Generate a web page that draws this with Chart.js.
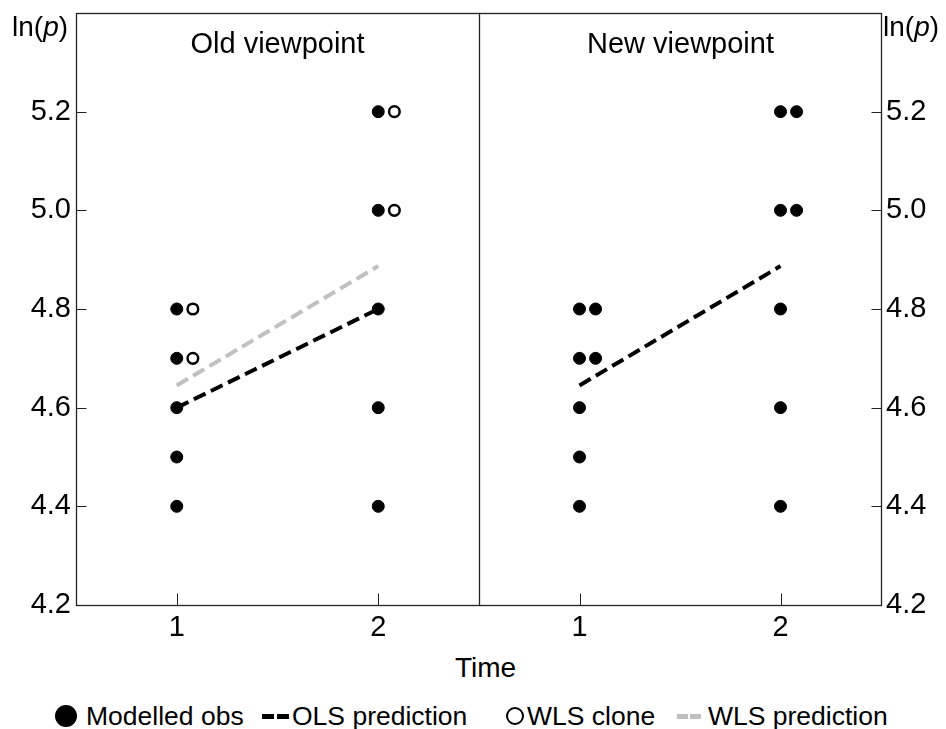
<!DOCTYPE html>
<html>
<head>
<meta charset="utf-8">
<script src="https://cdn.jsdelivr.net/npm/chart.js@4.4.1/dist/chart.umd.min.js"></script>
<style>
    html, body { margin: 0; padding: 0; background: #fff; }
    #wrap { position: relative; width: 946px; height: 729px; overflow: hidden;
        font-family: "Liberation Sans", Arial, sans-serif; color: #000; }
    canvas { position: absolute; top: 0; }
    #chartOld { left: 0; }
    #chartNew { left: 479px; }
    .txt { position: absolute; white-space: nowrap; font-size: 28px; line-height: 28px; }
    .ttl { width: 403px; text-align: center; top: 29px; font-size: 29px; }
    .leg { position: absolute; white-space: nowrap; font-size: 26.5px; line-height: 26px; top: 703px; }
    .mk { position: absolute; box-sizing: border-box; }
</style>
</head>
<body>
<div id="wrap">
    <canvas id="chartOld" width="480" height="650"></canvas>
    <canvas id="chartNew" width="467" height="650"></canvas>

    <div class="txt" style="left:12px; top:13px;">ln(<i>p</i>)</div>
    <div class="txt" style="left:883px; top:13px;">ln(<i>p</i>)</div>
    <div class="txt ttl" style="left:76px;">Old viewpoint</div>
    <div class="txt ttl" style="left:479px;">New viewpoint</div>
    <div class="txt" style="left:455px; top:654px;">Time</div>

    <div class="mk" style="left:55px; top:705px; width:22px; height:22px; border-radius:50%; background:#000;"></div>
    <div class="leg" style="left:86px;">Modelled obs</div>
    <div class="mk" style="left:262px; top:714px; width:12px; height:5px; background:#000;"></div>
    <div class="mk" style="left:277px; top:714px; width:12px; height:5px; background:#000;"></div>
    <div class="leg" style="left:292px;">OLS prediction</div>
    <div class="mk" style="left:506px; top:707px; width:18px; height:18px; border-radius:50%; border:2.5px solid #000;"></div>
    <div class="leg" style="left:527px;">WLS clone</div>
    <div class="mk" style="left:677px; top:714px; width:11px; height:5px; background:#c0c0c0;"></div>
    <div class="mk" style="left:690px; top:714px; width:11px; height:5px; background:#c0c0c0;"></div>
    <div class="leg" style="left:708px;">WLS prediction</div>
</div>
<script>
// tick values
const timeTicks = [1, 2];
const lnpTicks = [4.2, 4.4, 4.6, 4.8, 5.0, 5.2];

// old viewpoint
const oldObsTime = [1, 1, 1, 1, 1, 2, 2, 2, 2, 2];
const oldObsLnp = [4.4, 4.5, 4.6, 4.7, 4.8, 4.4, 4.6, 4.8, 5.0, 5.2];
const cloneTime = [1.08, 1.08, 2.08, 2.08];
const cloneLnp = [4.7, 4.8, 5.0, 5.2];
const predTime = [1, 2];
const olsOld = [4.6, 4.8];
const wlsOld = [4.645, 4.887];

// new viewpoint (clones become ordinary obs)
const newObsTime = [1, 1, 1, 1, 1, 1.08, 1.08, 2, 2, 2, 2, 2, 2.08, 2.08];
const newObsLnp = [4.4, 4.5, 4.6, 4.7, 4.8, 4.7, 4.8, 4.4, 4.6, 4.8, 5.0, 5.2, 5.0, 5.2];
const olsNew = [4.645, 4.887];

Chart.defaults.font.family = '"Liberation Sans", Arial, sans-serif';
Chart.defaults.font.size = 29;
Chart.defaults.color = '#000';

const pts = (xs, ys) => xs.map((x, i) => ({ x: x, y: ys[i] }));

const obsSet = (xs, ys) => ({
    label: 'Modelled obs', data: pts(xs, ys),
    pointRadius: 6, pointBackgroundColor: '#000', pointBorderColor: '#000', pointBorderWidth: 1
});
const cloneSet = (xs, ys) => ({
    label: 'WLS clone', data: pts(xs, ys),
    pointRadius: 5.3, pointBackgroundColor: '#fff', pointBorderColor: '#000', pointBorderWidth: 2.5
});
const lineSet = (label, ys, color) => ({
    label: label, data: pts(predTime, ys), showLine: true, pointRadius: 0,
    borderColor: color, borderWidth: 4, borderDash: [13, 6], borderCapStyle: 'butt'
});

// box round the panel plus inward tick marks
const frame = {
    id: 'frame',
    afterDraw(chart) {
        const ctx = chart.ctx, a = chart.chartArea;
        const l = Math.round(a.left) + 0.5, r = Math.round(a.right) + 0.5;
        const t = Math.round(a.top) + 0.5, b = Math.round(a.bottom) + 0.5;
        ctx.save();
        ctx.strokeStyle = '#222';
        ctx.lineWidth = 1.3;
        ctx.strokeRect(l, t, r - l, b - t);
        ctx.lineWidth = 1;
        ctx.beginPath();
        chart.scales.x.ticks.forEach(tk => {
            const px = Math.round(chart.scales.x.getPixelForValue(tk.value)) + 0.5;
            ctx.moveTo(px, b); ctx.lineTo(px, b - 12);
        });
        const ys = chart.scales.y, onLeft = ys.position === 'left';
        ys.ticks.forEach(tk => {
            const py = Math.round(ys.getPixelForValue(tk.value)) + 0.5;
            if (onLeft) { ctx.moveTo(l, py); ctx.lineTo(l + 10, py); }
            else { ctx.moveTo(r, py); ctx.lineTo(r - 10, py); }
        });
        ctx.stroke();
        ctx.restore();
    }
};

function makeChart(id, datasets, side, yWidth, pad) {
    return new Chart(document.getElementById(id), {
        type: 'scatter',
        data: { datasets: datasets },
        options: {
            responsive: false, animation: false, devicePixelRatio: 1,
            layout: { padding: pad, autoPadding: false },
            plugins: { legend: { display: false }, tooltip: { enabled: false } },
            scales: {
                x: {
                    type: 'linear', min: 0.5, max: 2.5,
                    afterBuildTicks: s => { s.ticks = timeTicks.map(v => ({ value: v })); },
                    afterFit: s => { s.height = 45; s.paddingLeft = 0; s.paddingRight = 0; },
                    grid: { display: false, drawTicks: false }, border: { display: false },
                    ticks: { padding: 6 }
                },
                y: {
                    type: 'linear', position: side, min: 4.2, max: 5.4,
                    afterBuildTicks: s => { s.ticks = lnpTicks.map(v => ({ value: v })); },
                    afterFit: s => { s.width = yWidth; s.paddingTop = 0; s.paddingBottom = 0; },
                    grid: { display: false, drawTicks: false }, border: { display: false },
                    ticks: { padding: 5, callback: v => v.toFixed(1) }
                }
            }
        },
        plugins: [frame]
    });
}

makeChart('chartOld', [
    obsSet(oldObsTime, oldObsLnp),
    cloneSet(cloneTime, cloneLnp),
    lineSet('OLS prediction', olsOld, '#000'),
    lineSet('WLS prediction', wlsOld, '#c0c0c0')
], 'left', 76, { left: 0, top: 13, right: 1, bottom: 0 });

makeChart('chartNew', [
    obsSet(newObsTime, newObsLnp),
    lineSet('OLS prediction', olsNew, '#000')
], 'right', 65, { left: 0, top: 13, right: 0, bottom: 0 });
</script>
</body>
</html>
